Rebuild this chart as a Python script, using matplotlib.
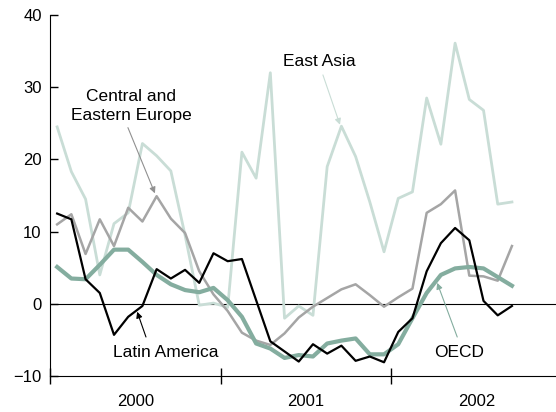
import numpy as np
import matplotlib.pyplot as plt

# monthly values, Jan 2000 .. Sep 2002
latin_america = [12.5, 11.7, 3.4, 1.5, -4.3, -1.8, -0.3, 4.8, 3.5, 4.7, 2.9, 7.0,
                 5.9, 6.2, 0.5, -5.2, -6.6, -8.0, -5.6, -6.9, -5.8, -7.9, -7.3, -8.1,
                 -3.9, -2.0, 4.5, 8.4, 10.5, 8.8, 0.4, -1.6, -0.3]
oecd = [5.1, 3.5, 3.4, 5.4, 7.5, 7.5, 5.8, 4.0, 2.7, 1.9, 1.6, 2.2,
        0.5, -1.8, -5.5, -6.2, -7.5, -7.1, -7.3, -5.5, -5.1, -4.8, -7.0, -7.0,
        -5.6, -2.0, 1.5, 4.0, 4.9, 5.1, 4.9, 3.7, 2.5]
central_europe = [11.0, 12.4, 6.9, 11.7, 8.0, 13.3, 11.4, 14.9, 11.8, 9.8, 4.5, 1.3,
                  -1.0, -4.0, -5.1, -5.7, -4.1, -1.9, -0.4, 0.8, 2.0, 2.7, 1.2, -0.4,
                  0.9, 2.1, 12.6, 13.8, 15.7, 3.9, 3.8, 3.2, 8.0]
east_asia = [24.5, 18.3, 14.5, 4.0, 11.1, 12.6, 22.2, 20.5, 18.4, 9.5, -0.2, 0.1,
             -0.5, 21.0, 17.4, 32.0, -2.0, -0.3, -1.6, 19.0, 24.6, 20.4, 14.1, 7.2,
             14.6, 15.5, 28.5, 22.1, 36.1, 28.3, 26.8, 13.8, 14.1]
years = ['2000', '2001', '2002']
yticks = [-10, 0, 10, 20, 30, 40]

c_asia = '#c9ddd6'
c_cee = '#a5a5a5'
c_oecd = '#84ad9f'
c_lat = '#000000'

plt.rcParams['font.family'] = ['Liberation Sans', 'DejaVu Sans']
plt.rcParams['font.size'] = 12

fig = plt.figure(figsize=(5.56, 4.12), dpi=100)
ax = fig.add_axes([0.09, 0.0874, 0.91, 0.8762])

months = np.arange(len(oecd)) + 0.5

ax.axhline(0, color='black', lw=0.8, zorder=1)
ax.plot(months, east_asia, color=c_asia, lw=2.0, zorder=2)
ax.plot(months, central_europe, color=c_cee, lw=1.8, zorder=3)
ax.plot(months, oecd, color=c_oecd, lw=3.0, zorder=4)
ax.plot(months, latin_america, color=c_lat, lw=1.6, zorder=5)

ax.set_xlim(0, 35.6)
ax.set_ylim(-10, 40)
ax.set_yticks(yticks)
ax.set_yticklabels(['\u221210', '0', '10', '20', '30', '40'])
ax.tick_params(axis='y', direction='in', length=6, width=1, pad=6)

ax.set_xticks([6, 18, 30])
ax.set_xticklabels(years)
ax.set_xticks([0, 12, 24], minor=True)
ax.tick_params(axis='x', which='major', length=0, pad=13)
ax.tick_params(axis='x', which='minor', direction='inout', length=12, width=1)

ax.spines['top'].set_visible(False)
ax.spines['right'].set_visible(False)

lsize = 12.5
arrow = dict(arrowstyle='-|>', lw=0.8, mutation_scale=9, shrinkA=0, shrinkB=0)

ax.text(18.93, 33.5, 'East Asia', ha='center', va='center', fontsize=lsize)
ax.annotate('', xy=(20.4, 24.8), xytext=(19.2, 31.7), arrowprops=dict(arrow, color=c_asia))

ax.text(5.73, 27.4, 'Central and\nEastern Europe', ha='center', va='center',
        fontsize=lsize, linespacing=1.3)
ax.annotate('', xy=(7.38, 15.3), xytext=(5.48, 24.4), arrowprops=dict(arrow, color='#909090'))

ax.text(8.15, -6.7, 'Latin America', ha='center', va='center', fontsize=lsize)
ax.annotate('', xy=(6.13, -1.1), xytext=(6.75, -4.6), arrowprops=dict(arrow, color='black'))

ax.text(28.79, -6.8, 'OECD', ha='center', va='center', fontsize=lsize)
ax.annotate('', xy=(27.24, 2.9), xytext=(28.65, -4.6), arrowprops=dict(arrow, color=c_oecd))

fig.savefig('out.png', dpi=100)
